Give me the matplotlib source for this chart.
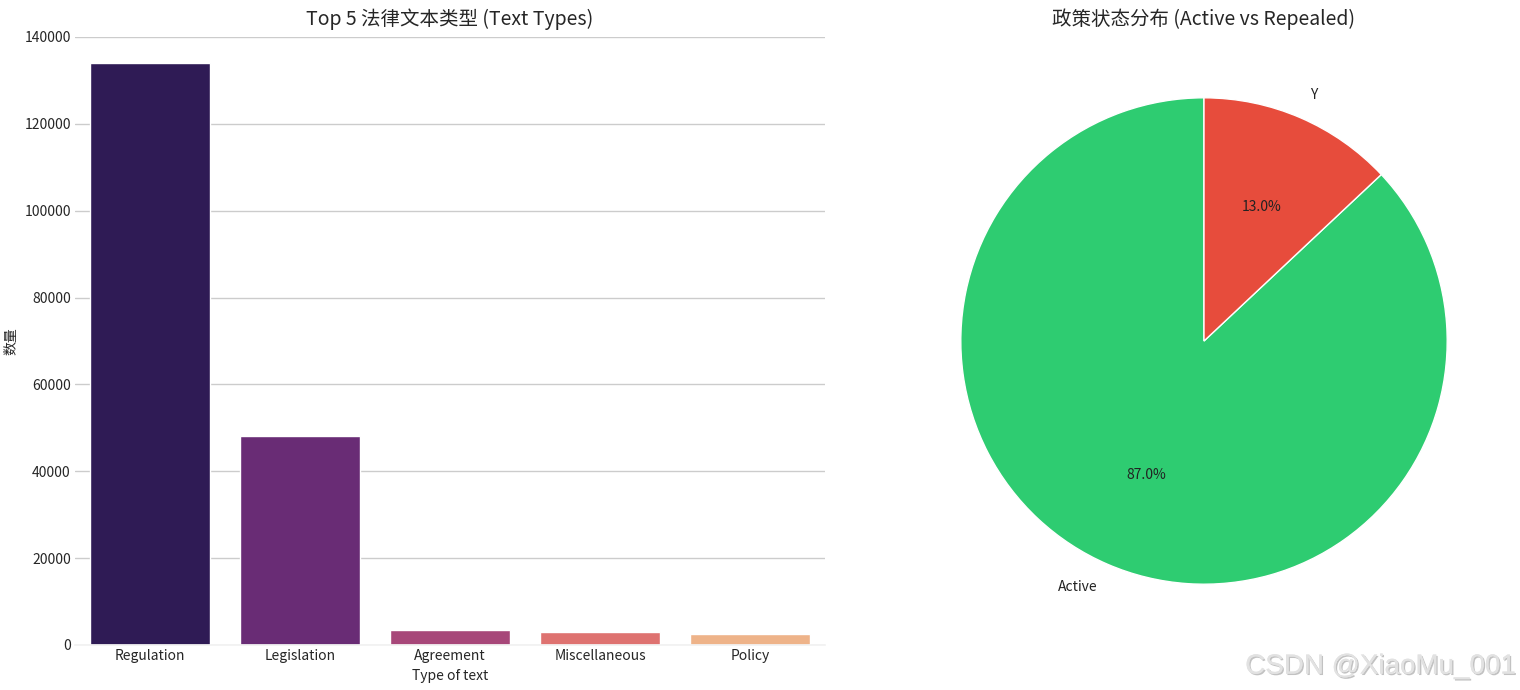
import matplotlib
matplotlib.use('Agg')
import matplotlib.pyplot as plt
import matplotlib.patheffects as pe
import seaborn as sns

# data
text_types = ["Regulation", "Legislation", "Agreement", "Miscellaneous", "Policy"]
type_counts = [133900, 48200, 3350, 3100, 2450]

status_labels = ["Active", "Y"]
status_share = [87.0, 13.0]
status_colors = ["#2ecc71", "#e74c3c"]

sns.set_theme(style="whitegrid")
plt.rcParams['font.family'] = ['Noto Sans CJK SC', 'DejaVu Sans']
plt.rcParams['axes.unicode_minus'] = False

fig = plt.figure(figsize=(15.2, 6.9), dpi=100)
ax1 = fig.add_axes([75 / 1520, 45 / 690, 750 / 1520, 608 / 690])
ax2 = fig.add_axes([900 / 1520, 45 / 690, 608 / 1520, 608 / 690])

# left: bar chart
bar_colors = sns.color_palette("magma", len(text_types))
sns.barplot(x=text_types, y=type_counts, hue=text_types, palette=bar_colors,
            legend=False, ax=ax1)
ax1.set_ylim(0, 140000)
ax1.set_xlim(-0.5, len(text_types) - 0.5)
ax1.set_title("Top 5 法律文本类型 (Text Types)", fontsize=14, pad=9)
ax1.set_xlabel("Type of text", fontsize=10, labelpad=4)
ax1.set_ylabel("数量", fontsize=10)
ax1.tick_params(axis='both', labelsize=10, length=0, pad=3)
ax1.grid(axis='x', visible=False)
for side in ["left", "top", "right"]:
    ax1.spines[side].set_visible(False)
ax1.spines["bottom"].set_color("#f2f2f2")

# right: pie chart
ax2.pie(status_share, labels=status_labels, colors=status_colors, autopct="%1.1f%%",
        startangle=90, wedgeprops=dict(edgecolor="white", linewidth=1),
        textprops=dict(fontsize=10, color="#222222"))
ax2.set_title("政策状态分布 (Active vs Repealed)", fontsize=14, pad=9)

# watermark
fig.text(0.997, 0.015, "CSDN @XiaoMu_001", ha="right", va="bottom", fontsize=20,
         family="Liberation Sans", color="#e2e2e2",
         path_effects=[pe.withSimplePatchShadow(offset=(1, -1), shadow_rgbFace="#9a9a9a", alpha=0.6),
                       pe.Normal()])

fig.savefig("out.png", dpi=100)
